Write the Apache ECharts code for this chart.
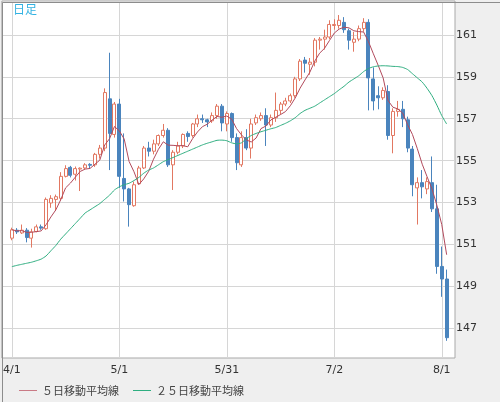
<!DOCTYPE html>
<html>
<head>
<meta charset="utf-8">
<script src="https://cdn.jsdelivr.net/npm/echarts@6/dist/echarts.min.js"></script>
<style>
html,body{margin:0;padding:0;background:#efefef;}
#c{width:500px;height:402px;}
</style>
</head>
<body>
<div id="c"></div>
<script>
// Trading days (categories)
const dates = [
 '4/1','4/2','4/3','4/4','4/5','4/8','4/9','4/10','4/11','4/12','4/15','4/16','4/17','4/18','4/19','4/22','4/23','4/24','4/25','4/26','4/29','4/30',
 '5/1','5/2','5/3','5/6','5/7','5/8','5/9','5/10','5/13','5/14','5/15','5/16','5/17','5/20','5/21','5/22','5/23','5/24','5/27','5/28','5/29','5/30','5/31',
 '6/3','6/4','6/5','6/6','6/7','6/10','6/11','6/12','6/13','6/14','6/17','6/18','6/19','6/20','6/21','6/24','6/25','6/26','6/27','6/28',
 '7/1','7/2','7/3','7/4','7/5','7/8','7/9','7/10','7/11','7/12','7/15','7/16','7/17','7/18','7/19','7/22','7/23','7/24','7/25','7/26','7/29','7/30','7/31',
 '8/1','8/2'
];
const open = [
 151.3,151.68,151.55,151.68,151.3,151.62,151.84,151.75,152.98,153.15,153.2,154.25,154.68,154.35,154.6,154.65,154.82,154.8,155.3,155.6,157.95,156.25,
 157.7,154.15,153.65,152.85,153.9,154.65,155.6,155.45,155.8,156.2,156.45,154.8,155.4,155.7,156.3,156.2,156.75,157.0,156.95,156.9,157.15,157.6,156.75,
 157.25,156.1,154.8,156.1,155.6,156.8,157.0,157.15,156.7,157.05,157.4,157.7,157.85,158.1,158.9,159.8,159.6,159.7,160.75,160.8,
 160.9,161.45,161.45,161.6,161.2,160.65,160.8,161.3,161.6,158.9,158.1,158.0,158.3,156.2,157.35,157.45,156.95,155.55,153.7,153.95,153.65,153.95,152.7,
 149.95,149.35
];
const close = [
 151.7,151.6,151.68,151.33,151.6,151.84,151.78,153.15,153.2,153.28,154.25,154.62,154.3,154.62,154.64,154.8,154.78,155.3,155.6,158.25,156.3,157.7,
 154.25,153.65,152.9,153.85,154.65,155.6,155.45,155.8,156.2,156.45,154.8,155.4,155.7,156.25,156.15,156.75,157.0,156.95,156.85,157.15,157.6,156.8,157.25,
 156.1,154.9,156.1,155.6,156.75,157.05,157.15,156.7,157.05,157.4,157.7,157.85,158.1,158.9,159.75,159.65,159.7,160.75,160.8,160.9,
 161.5,161.5,161.7,161.25,160.75,160.8,161.3,161.6,158.95,157.85,158.0,158.35,156.2,157.35,157.45,157.0,155.6,153.85,153.95,153.75,154.0,152.7,149.95,
 149.35,146.55
];
const low = [
 151.2,151.5,151.5,151.1,150.85,151.58,151.7,151.7,152.75,152.6,153.1,154.2,154.2,154.05,153.55,154.6,154.6,154.7,155.1,155.45,154.55,156.1,
 153.7,153.05,151.85,152.8,153.85,154.6,155.2,155.3,155.7,156.1,154.7,153.6,155.3,155.6,155.9,156.1,156.6,156.8,156.6,156.8,157.0,156.4,156.4,
 155.9,154.55,154.7,155.5,155.1,156.7,156.9,155.7,156.6,156.85,157.2,157.6,157.75,158.0,158.8,159.2,159.1,159.5,160.3,160.3,
 160.8,161.25,161.3,161.1,160.3,160.2,160.7,161.15,157.4,157.4,157.45,157.9,156.0,155.35,157.1,156.6,155.4,153.3,151.95,153.2,153.4,152.55,149.6,
 148.5,146.4
];
const high = [
 151.8,151.78,151.95,151.78,151.75,151.95,151.95,153.24,153.35,153.38,154.45,154.78,154.75,154.72,154.68,154.88,154.88,155.37,155.75,158.45,160.15,157.8,
 157.95,156.3,153.7,154.0,154.75,155.7,155.9,156.0,156.25,156.75,156.55,155.5,155.9,156.3,156.4,156.8,157.2,157.2,157.0,157.3,157.7,157.7,157.35,
 157.3,156.3,156.4,156.5,157.0,157.2,157.3,157.5,157.2,158.25,157.8,158.0,158.2,159.0,159.85,159.95,159.9,160.85,160.9,161.25,
 161.7,161.75,161.95,161.85,161.3,161.15,161.45,161.8,161.75,159.45,158.55,158.5,158.6,157.5,157.85,157.85,157.1,155.7,154.2,154.55,154.2,155.2,153.85,
 150.9,149.8
];
// 25-day moving average
const ma25 = [
 149.94,150.0,150.05,150.1,150.15,150.22,150.3,150.45,150.7,150.95,151.25,151.5,151.75,152.0,152.25,152.5,152.65,152.8,152.95,153.15,153.35,153.6,
 153.75,153.85,153.92,154.05,154.2,154.4,154.55,154.65,154.8,154.95,155.05,155.15,155.25,155.35,155.45,155.55,155.65,155.75,155.83,155.9,155.97,155.98,155.95,
 155.85,155.8,155.85,156.05,156.2,156.3,156.38,156.45,156.52,156.58,156.68,156.78,156.9,157.05,157.25,157.4,157.5,157.6,157.75,157.9,
 158.05,158.2,158.38,158.55,158.75,158.9,159.05,159.25,159.4,159.48,159.52,159.53,159.52,159.5,159.49,159.45,159.35,159.15,158.95,158.75,158.45,158.1,157.65,
 157.15,156.75
];
const yTicks = [147,149,151,153,155,157,159,161];
const xTickIdx = [0,22,44,66,88];
const seriesNames = ['５日移動平均線','２５日移動平均線'];

// 5-day moving average of the closes
const ma5 = close.map((c,i)=>{
  const s = close.slice(Math.max(0,i-4), i+1);
  return s.reduce((a,b)=>a+b,0)/s.length;
});

const candleData = dates.map((d,i)=>[i, open[i], close[i], low[i], high[i]]);
const ma5Data = ma5.map((v,i)=>[i, v]);
const ma25Data = ma25.map((v,i)=>[i, v]);

const chart = echarts.init(document.getElementById('c'), null, {renderer:'canvas'});
const labelFont = 'DejaVu Sans';
chart.setOption({
  backgroundColor: '#efefef',
  animation: false,
  grid: {
    show: true, left: 1, top: 1, right: 45, bottom: 44,
    backgroundColor: '#ffffff', borderColor: '#a9a9a9', borderWidth: 1
  },
  xAxis: {
    type: 'value', min: -2.04, max: 90.71,
    axisLine: {show: false},
    axisTick: {show: false, customValues: xTickIdx},
    axisLabel: {
      customValues: xTickIdx, color: '#333', fontSize: 11, fontFamily: labelFont, margin: 7,
      formatter: v => dates[v] || ''
    },
    splitLine: {show: true, lineStyle: {color: '#d6d6d6', width: 1}}
  },
  yAxis: {
    type: 'value', position: 'right', min: 145.58, max: 162.62,
    axisLine: {show: false},
    axisTick: {show: false, customValues: yTicks},
    axisLabel: {customValues: yTicks, color: '#333', fontSize: 11, fontFamily: labelFont, margin: 1},
    splitLine: {show: true, lineStyle: {color: '#d6d6d6', width: 1}}
  },
  legend: {
    data: seriesNames, left: 14, top: 380, itemWidth: 18, itemHeight: 1, itemGap: 14, icon: 'rect',
    textStyle: {fontSize: 11, color: '#444', fontFamily: 'Noto Sans CJK JP'}
  },
  graphic: [
    {type: 'text', left: 13, top: 3, style: {text: '日足', fill: '#33b2e2', fontSize: 12, fontFamily: 'Noto Sans CJK JP'}},
    {type: 'rect', left: 0, top: 0, shape: {x: 0, y: 0, width: 499, height: 401},
     style: {fill: 'none', stroke: '#8c8c8c', lineWidth: 1}, silent: true, z: 100}
  ],
  series: [
    {
      type: 'candlestick', name: '日足', data: candleData, barWidth: 3.5,
      itemStyle: {color: '#ffffff', color0: '#4a84bd', borderColor: '#e27862', borderColor0: '#4a84bd', borderWidth: 1}
    },
    {
      type: 'line', name: seriesNames[0], data: ma5Data, symbol: 'none',
      lineStyle: {color: '#b24a5c', width: 1}, itemStyle: {color: '#c97a85'}
    },
    {
      type: 'line', name: seriesNames[1], data: ma25Data, symbol: 'none', smooth: 0.2,
      lineStyle: {color: '#2eae80', width: 1}, itemStyle: {color: '#2eae80'}
    }
  ]
});
</script>
</body>
</html>
